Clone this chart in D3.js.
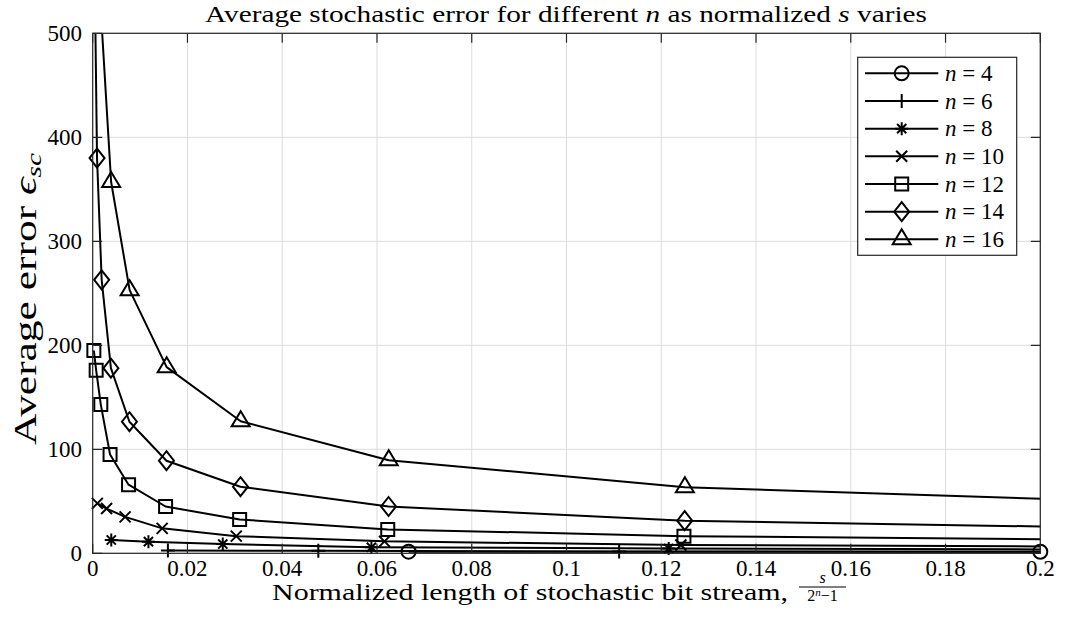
<!DOCTYPE html>
<html><head><meta charset="utf-8">
<script src="https://cdn.jsdelivr.net/npm/d3@7"></script>
<style>body{margin:0;background:#fff}svg{display:block}</style>
</head><body><svg id="c" width="1065" height="632"></svg>
<script>
// ---- data ----
const nValues = [4, 6, 8, 10, 12, 14, 16];
const markerTypes = ["circle", "plus", "asterisk", "cross", "square", "diamond", "triangle"];
// stream lengths s (normalized by 2^n - 1) and average error per n
const s4 = [1, 3, 7, 15];
const err4 = [1.6, 1.5, 1.2, 1.0];
const s6 = [1, 3, 7, 15, 31];
const err6 = [2.6, 2.4, 1.8, 1.4, 1.1];
const s8 = [1, 3, 7, 15, 31, 63, 127];
const err8 = [12.8, 11.2, 8.9, 5.8, 4.6, 3.2, 2.3];
const s10 = [1, 3, 7, 15, 31, 63, 127, 255, 511];
const err10 = [48, 43, 35, 24, 16.5, 11.5, 8, 5.7, 4];
const s12 = [1, 3, 7, 15, 31, 63, 127, 255, 511, 1023, 2047];
const err12 = [195, 176, 143, 95, 66, 45, 32.5, 23, 16.5, 11.7, 8.3];
const s14 = [1, 3, 7, 15, 31, 63, 127, 255, 511, 1023, 2047, 4095, 8191];
const err14 = [1470, 850, 555, 380, 263, 178, 126.5, 89, 64, 45, 31.4, 22, 15.7];
const s16 = [31, 63, 127, 255, 511, 1023, 2047, 4095, 8191, 16383, 32767];
const err16 = [1010, 714, 505, 357, 253, 179, 127, 89.5, 63.5, 45, 31.8];

const xTicks = [0, 0.02, 0.04, 0.06, 0.08, 0.1, 0.12, 0.14, 0.16, 0.18, 0.2];
const xTickLabels = ["0", "0.02", "0.04", "0.06", "0.08", "0.1", "0.12", "0.14", "0.16", "0.18", "0.2"];
const yTicks = [0, 100, 200, 300, 400, 500];
const yTickLabels = ["0", "100", "200", "300", "400", "500"];
const titleText = ["Average stochastic error for different ", "n", " as normalized ", "s", " varies"];

const sLists = [s4, s6, s8, s10, s12, s14, s16];
const errLists = [err4, err6, err8, err10, err12, err14, err16];

// ---- layout ----
const W = 1065, H = 632;
const L = 92.7, R = 1040.3, T = 33.3, B = 553.3;
const FONT = "'Liberation Serif', 'Times New Roman', serif";
const FS = 23;
const AX = "#262626";

const svg = d3.select("#c");
const x = d3.scaleLinear().domain([0, 0.2]).range([L, R]);
const y = d3.scaleLinear().domain([0, 500]).range([B, T]);

svg.append("rect").attr("width", W).attr("height", H).attr("fill", "#fff");

// grid
const g = svg.append("g");
g.selectAll(".gx").data(xTicks).join("line")
  .attr("x1", d => x(d)).attr("x2", d => x(d)).attr("y1", T).attr("y2", B)
  .attr("stroke", "#dcdcdc").attr("stroke-width", 1);
g.selectAll(".gy").data(yTicks).join("line")
  .attr("y1", d => y(d)).attr("y2", d => y(d)).attr("x1", L).attr("x2", R)
  .attr("stroke", "#dcdcdc").attr("stroke-width", 1);

// clip
svg.append("clipPath").attr("id", "clip").append("rect")
  .attr("x", L).attr("y", T).attr("width", R - L).attr("height", B - T);

// series
const series = nValues.map((n, i) => ({
  n, marker: markerTypes[i],
  pts: sLists[i].map((s, j) => ({ x: s / (Math.pow(2, n) - 1), v: errLists[i][j] }))
}));

const line = d3.line().x(d => x(d.x)).y(d => y(d.v));
const lineG = svg.append("g").attr("clip-path", "url(#clip)");
lineG.selectAll("path").data(series).join("path")
  .attr("d", d => line(d.pts))
  .attr("fill", "none").attr("stroke", "#000").attr("stroke-width", 2)
  .attr("stroke-linejoin", "round");

function mPath(type) {
  switch (type) {
    case "circle": return "M7,0A7,7 0 1,1 -7,0A7,7 0 1,1 7,0Z";
    case "plus": return "M-7,0H7M0,-7V7";
    case "asterisk": return "M-6.5,0H6.5M0,-6.5V6.5M-4.6,-4.6L4.6,4.6M-4.6,4.6L4.6,-4.6";
    case "cross": return "M-5.5,-5.5L5.5,5.5M-5.5,5.5L5.5,-5.5";
    case "square": return "M-6.5,-6.5H6.5V6.5H-6.5Z";
    case "diamond": return "M0,-9.5L7.5,0L0,9.5L-7.5,0Z";
    case "triangle": return "M0,-10L9,5H-9Z";
  }
}

const inside = p => p.x >= 0 && p.x <= 0.2 + 1e-9 && p.v >= 0 && p.v <= 500;
const mg = svg.append("g");
series.forEach(sr => {
  mg.append("g").selectAll("path").data(sr.pts.filter(inside)).join("path")
    .attr("transform", d => `translate(${x(d.x)},${y(d.v)})`)
    .attr("d", mPath(sr.marker))
    .attr("fill", "none").attr("stroke", "#000").attr("stroke-width", 2);
});

// axes box and ticks
const ax = svg.append("g");
ax.append("rect").attr("x", L).attr("y", T).attr("width", R - L).attr("height", B - T)
  .attr("fill", "none").attr("stroke", AX).attr("stroke-width", 1.2);
const TL = 9.5;
ax.selectAll(".tb").data(xTicks).join("path")
  .attr("d", d => `M${x(d)},${B}V${B - TL}M${x(d)},${T}V${T + TL}`)
  .attr("stroke", AX).attr("stroke-width", 1.2);
ax.selectAll(".tl").data(yTicks).join("path")
  .attr("d", d => `M${L},${y(d)}H${L + TL}M${R},${y(d)}H${R - TL}`)
  .attr("stroke", AX).attr("stroke-width", 1.2);

ax.selectAll(".xl").data(xTicks).join("text")
  .attr("x", d => x(d)).attr("y", 575.5)
  .attr("text-anchor", "middle").attr("font-family", FONT).attr("font-size", FS)
  .attr("fill", "#000").text((d, i) => xTickLabels[i]);
ax.selectAll(".yl").data(yTicks).join("text")
  .attr("x", 82).attr("y", d => y(d) + 7.8)
  .attr("text-anchor", "end").attr("font-family", FONT).attr("font-size", FS)
  .attr("fill", "#000").text((d, i) => yTickLabels[i]);

// title
const title = svg.append("text").attr("x", 205).attr("y", 22)
  .attr("font-family", FONT).attr("font-size", FS).attr("fill", "#000")
  .attr("textLength", 722).attr("lengthAdjust", "spacingAndGlyphs");
titleText.forEach((t, i) => title.append("tspan").attr("font-style", i % 2 === 1 ? "italic" : "normal").text(t));

// x label with fraction
const xl = svg.append("g");
xl.append("text").attr("x", 272).attr("y", 599.5).attr("font-family", FONT).attr("font-size", FS).attr("fill", "#000")
  .attr("textLength", 516).attr("lengthAdjust", "spacingAndGlyphs")
  .text("Normalized length of stochastic bit stream,");
const fx = 799, fracW = 47;
xl.append("text").attr("x", fx + fracW / 2).attr("y", 583).attr("text-anchor", "middle")
  .attr("font-family", FONT).attr("font-size", 16).attr("font-style", "italic").text("s");
xl.append("line").attr("x1", fx).attr("x2", fx + fracW).attr("y1", 587).attr("y2", 587)
  .attr("stroke", "#000").attr("stroke-width", 1);
const den = xl.append("text").attr("x", fx + fracW / 2).attr("y", 601).attr("text-anchor", "middle")
  .attr("font-family", FONT).attr("font-size", 16);
den.append("tspan").text("2");
den.append("tspan").attr("font-style", "italic").attr("font-size", 11).attr("dy", -5).text("n");
den.append("tspan").attr("dy", 5).text("\u22121");

// y label
const yl = svg.append("text").attr("transform", `translate(36,${445}) rotate(-90)`)
  .attr("font-family", FONT).attr("font-size", 31).attr("fill", "#000")
  .attr("textLength", 292).attr("lengthAdjust", "spacingAndGlyphs");
yl.append("tspan").text("Average error ");
yl.append("tspan").attr("font-style", "italic").text("\u03F5");
yl.append("tspan").attr("font-style", "italic").attr("font-size", 21).attr("dy", 5).text("sc");

// legend
const LX = 857.7, LY = 57.3, LW = 159, LH = 198;
const lg = svg.append("g");
lg.append("rect").attr("x", LX).attr("y", LY).attr("width", LW).attr("height", LH)
  .attr("fill", "#fff").attr("stroke", AX).attr("stroke-width", 1.2);
const rowY = d3.scaleLinear().domain([0, 6]).range([73.3, 239.3]);
series.forEach((sr, i) => {
  const yy = rowY(i);
  lg.append("line").attr("x1", 865).attr("x2", 938.3).attr("y1", yy).attr("y2", yy)
    .attr("stroke", "#000").attr("stroke-width", 2);
  lg.append("path").attr("transform", `translate(901.7,${yy})`).attr("d", mPath(sr.marker))
    .attr("fill", "none").attr("stroke", "#000").attr("stroke-width", 2);
  const t = lg.append("text").attr("x", 945).attr("y", yy + 7.8)
    .attr("font-family", FONT).attr("font-size", FS).attr("fill", "#000");
  t.append("tspan").attr("font-style", "italic").text("n");
  t.append("tspan").text(" = " + sr.n);
});
</script>
</body></html>
